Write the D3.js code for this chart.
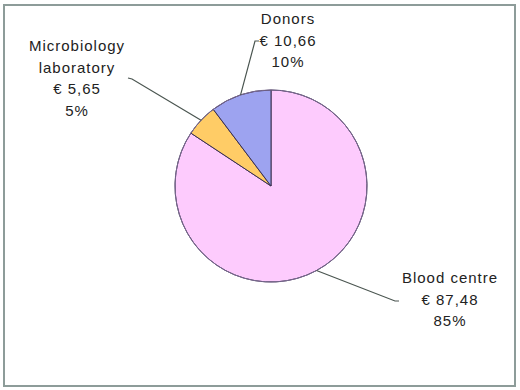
<!DOCTYPE html>
<html><head><meta charset="utf-8">
<script src="https://cdn.jsdelivr.net/npm/d3@7"></script>
<style>html,body{margin:0;padding:0;background:#fff}svg{display:block}</style>
</head><body>
<script>
const categories = ["Blood centre", "Microbiology laboratory", "Donors"];
const values = [87.48, 5.65, 10.66];
const valueLabels = ["€ 87,48", "€ 5,65", "€ 10,66"];
const percentLabels = ["85%", "5%", "10%"];
const nameLines = [["Blood centre"], ["Microbiology", "laboratory"], ["Donors"]];
const colors = ["#FDCBFD", "#FFCC66", "#9DA3F0"];

const W = 520, H = 390, cx = 271, cy = 186, R = 96;
// label layout: center x, first-line baseline y, leader elbow points
const labelLayout = [
  {x: 450, y: 283, elbow: [[395, 301], [399, 301]]},
  {x: 77, y: 51, elbow: [[132, 79], [128, 78]]},
  {x: 288, y: 24, elbow: [[255, 41], [259, 41]]}
];

const svg = d3.select("body").append("svg").attr("width", W).attr("height", H);
svg.append("rect").attr("x", 4).attr("y", 5).attr("width", 511).attr("height", 381)
  .attr("fill", "#fff").attr("stroke", "#8d9c99").attr("stroke-width", 2);

const pie = d3.pie().sort(null).value(d => d)(values);
const arc = d3.arc().innerRadius(0).outerRadius(R);
const g = svg.append("g").attr("transform", `translate(${cx},${cy})`);
g.selectAll("path.slice").data(pie).enter().append("path")
  .attr("class", "slice").attr("d", arc)
  .attr("fill", (d, i) => colors[i]).attr("stroke", "#3a3050").attr("stroke-width", 1);
g.append("circle").attr("r", R).attr("fill", "none").attr("stroke", "#7a6a90").attr("stroke-width", 1);

const line = d3.line();
pie.forEach((d, i) => {
  const a = (d.startAngle + d.endAngle) / 2;
  const p0 = [cx + R * Math.sin(a), cy - R * Math.cos(a)];
  const L = labelLayout[i];
  svg.append("path").attr("d", line([p0, ...L.elbow]))
    .attr("fill", "none").attr("stroke", "#4a5550").attr("stroke-width", 1.2);
  const lines = [...nameLines[i], valueLabels[i], percentLabels[i]];
  const t = svg.append("text").attr("text-anchor", "middle")
    .attr("font-family", "Liberation Sans, Arial, sans-serif").attr("font-size", 15)
    .attr("letter-spacing", 1).attr("fill", "#222");
  lines.forEach((s, k) => t.append("tspan").attr("x", L.x).attr("y", L.y + k * 21.7).text(s));
});
</script>
</body></html>
